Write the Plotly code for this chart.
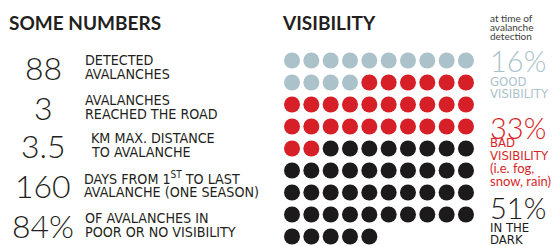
import plotly.graph_objects as go

# ---------------- data ----------------
stat_values = ["88", "3", "3.5", "160", "84%"]
stat_line1 = ["DETECTED", "AVALANCHES", "KM MAX. DISTANCE", "DAYS FROM 1<sup>ST</sup> TO LAST", "OF AVALANCHES IN"]
stat_line2 = ["AVALANCHES", "REACHED THE ROAD", "TO AVALANCHE", "AVALANCHE (ONE SEASON)", "POOR OR NO VISIBILITY"]

vis_categories = ["GOOD VISIBILITY", "BAD VISIBILITY", "IN THE DARK"]
vis_counts = [14, 28, 43]
vis_percent_labels = ["16%", "33%", "51%"]
vis_colors = ["#abc2cb", "#d71f27", "#1c1a1b"]

# ---------------- layout helpers ----------------
W, H = 555, 246
N_COLS = 10


def px(x):
    return x / W


def py(y):
    return 1 - y / H


# waffle dots: row-major from counts
dot_x, dot_y, dot_c = [], [], []
i = 0
for cat, n, col in zip(vis_categories, vis_counts, vis_colors):
    for _ in range(n):
        dot_x.append(i % N_COLS)
        dot_y.append(i // N_COLS)
        dot_c.append(col)
        i += 1

fig = go.Figure()
fig.add_trace(go.Scatter(
    x=dot_x, y=dot_y, mode="markers",
    marker=dict(size=16, color=dot_c, line=dict(width=0)),
    hoverinfo="skip", showlegend=False,
))

# axis geometry: column spacing 19.33px, first col at 292px; row spacing 22px, first row at 60.5px
col_dx, col0 = 19.33, 292.0
row_dy, row0 = 22.0, 60.5
x_left = col0 - 0.5 * col_dx
x_right = col0 + 9.5 * col_dx
y_top = row0 - 0.5 * row_dy
fig.update_layout(
    xaxis=dict(domain=[px(x_left), px(x_right)], range=[-0.5, 9.5], visible=False, fixedrange=True),
    yaxis=dict(domain=[0, py(y_top)], range=[(H - row0) / row_dy, -0.5], visible=False, fixedrange=True),
)

TITLE_FONT = "Lato, 'Open Sans', sans-serif"
NUM_FONT = "Lato, 'Open Sans', sans-serif"
DESC_FONT = "'Liberation Sans Narrow', 'DejaVu Sans Condensed', sans-serif"
DARK = "#231f20"

ann = []


def add(text, x, y, size, color=DARK, family=DESC_FONT, xanchor="left", weight=None):
    f = dict(family=family, size=size, color=color)
    if weight is not None:
        f["weight"] = weight
    ann.append(dict(text=text, x=px(x), y=py(y), xref="paper", yref="paper",
                    xanchor=xanchor, yanchor="middle", showarrow=False, font=f))


# titles
add("SOME NUMBERS", 7, 22, 19, family=TITLE_FONT, weight=700)
add("VISIBILITY", 280, 22, 19, family=TITLE_FONT, weight=700)

# left statistics
num_y = [67, 107, 145, 185, 225]
desc_x = [83, 83, 89, 82, 83]
for v, l1, l2, yc, dx in zip(stat_values, stat_line1, stat_line2, num_y, desc_x):
    add(v, 43, yc, 32, family=NUM_FONT, xanchor="center", weight=300)
    add(l1, dx, yc - 7.5, 14.2)
    add(l2, dx, yc + 6.5, 14.2)

# right legend
RX = 488
for t, yy in zip(["at time of", "avalanche", "detection"], [18, 27, 36]):
    add(t, RX, yy, 10, color="#3a3a3a", family=NUM_FONT)

add(vis_percent_labels[0], RX, 61, 29, color=vis_colors[0], family=NUM_FONT, weight=300)
add("GOOD", RX, 81, 13, color=vis_colors[0])
add("VISIBILITY", RX, 93, 13, color=vis_colors[0])

add(vis_percent_labels[1], RX, 127, 29, color=vis_colors[1], family=NUM_FONT, weight=300)
add("BAD", RX, 142, 13, color=vis_colors[1])
add("VISIBILITY", RX, 155, 13, color=vis_colors[1])
add("(i.e. fog,", RX, 168, 13, color=vis_colors[1], family=NUM_FONT)
add("snow, rain)", RX, 181, 13, color=vis_colors[1], family=NUM_FONT)

add(vis_percent_labels[2], RX, 207, 29, color=vis_colors[2], family=NUM_FONT, weight=300)
add("IN THE", RX, 227, 13, color=vis_colors[2])
add("DARK", RX, 239, 13, color=vis_colors[2])

fig.update_layout(
    width=W, height=H,
    margin=dict(l=0, r=0, t=0, b=0),
    paper_bgcolor="white", plot_bgcolor="white",
    annotations=ann,
)

fig.write_html(
    "out.html",
    config={"displayModeBar": False},
    post_script="document.body.style.margin='0';document.body.style.overflow='hidden';",
)
